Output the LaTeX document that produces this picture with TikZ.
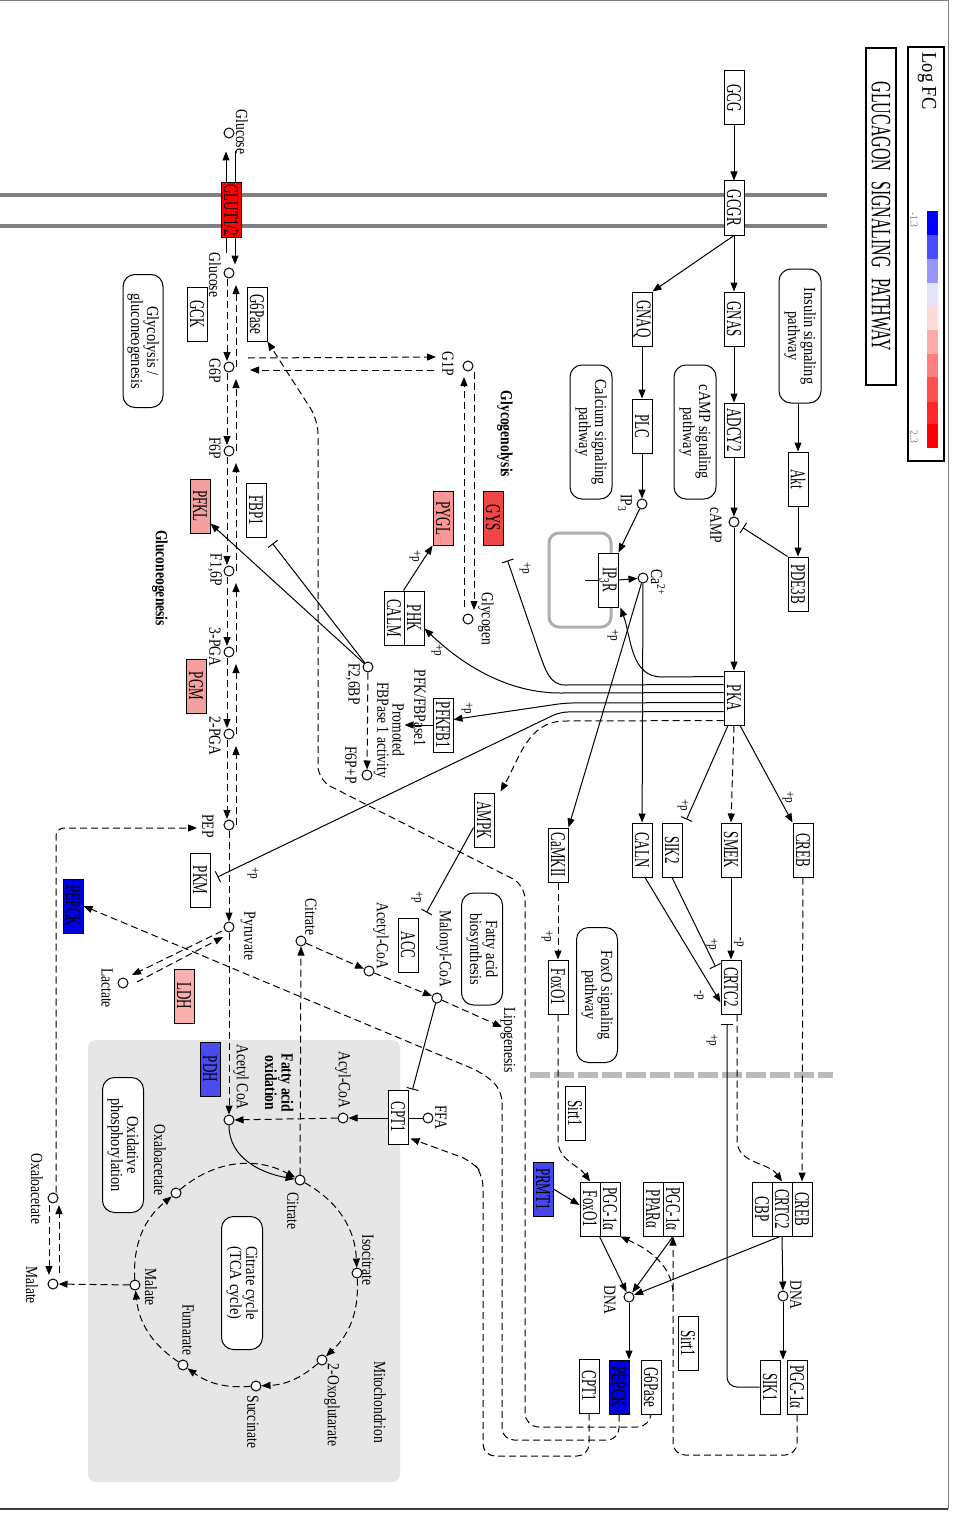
\documentclass[tikz,border=0pt]{standalone}
\usepackage{graphicx}
\usepackage{fontspec}
\setmainfont{Liberation Serif}
\newfontfamily\gfnt[FakeStretch=0.62]{Liberation Serif}
\newfontfamily\lfnt[FakeStretch=0.8]{Liberation Serif}
\newfontfamily\pfnt[FakeStretch=0.85]{Liberation Serif}
\newfontfamily\tfnt[FakeStretch=0.57]{Liberation Serif}
\newfontfamily\legfnt[FakeStretch=0.88]{Liberation Serif}
\usetikzlibrary{arrows.meta,calc}
\pgfdeclarelayer{bg}
\pgfdeclarelayer{edges}
\pgfsetlayers{bg,edges,main}
\newcommand{\vt}[1]{\rotatebox{-90}{#1}}
\definecolor{cGLUT}{RGB}{255,0,0}
\definecolor{cGYS}{RGB}{240,70,70}
\definecolor{cPYGL}{RGB}{250,150,150}
\definecolor{cPFKL}{RGB}{245,160,160}
\definecolor{cLDH}{RGB}{250,175,175}
\definecolor{cPDH}{RGB}{75,75,240}
\definecolor{cPRMT}{RGB}{70,70,240}
\definecolor{cPEPCK}{RGB}{0,0,225}
\definecolor{mitog}{RGB}{230,230,230}
\definecolor{membg}{RGB}{128,128,128}
\definecolor{nucg}{RGB}{185,185,185}
\definecolor{erg}{RGB}{175,175,175}
\definecolor{s1}{RGB}{0,0,255}
\definecolor{s2}{RGB}{75,75,255}
\definecolor{s3}{RGB}{150,150,255}
\definecolor{s4}{RGB}{228,228,250}
\definecolor{s5}{RGB}{255,218,218}
\definecolor{s6}{RGB}{255,170,170}
\definecolor{s7}{RGB}{255,125,125}
\definecolor{s8}{RGB}{255,80,80}
\definecolor{s9}{RGB}{255,40,40}
\definecolor{s10}{RGB}{255,0,0}
\tikzset{
 gene/.style={draw, fill=white, minimum width=20pt, minimum height=54pt, inner sep=0pt, line width=1pt, font=\gfnt\fontsize{21}{21}\selectfont},
 pw/.style={draw, fill=white, rounded corners=12pt, minimum width=42pt, minimum height=134pt, inner sep=0pt, line width=1pt, font=\pfnt\fontsize{17}{14}\selectfont},
 cpd/.style={circle, draw, fill=white, minimum size=10pt, inner sep=0pt, line width=1pt},
 lbl/.style={inner sep=0pt, font=\lfnt\fontsize{17}{17}\selectfont},
 blbl/.style={inner sep=0pt, font=\lfnt\bfseries\fontsize{17}{15}\selectfont},
 pl/.style={inner sep=0pt, font=\lfnt\fontsize{14}{14}\selectfont},
 ln/.style={line width=1pt},
 arr/.style={ln, -{Triangle[length=9pt,width=7pt]}},
 darr/.style={arr, dash pattern=on 7pt off 4pt},
 inh/.style={ln, -{Bar[width=12pt]}},
}
\begin{document}
\begin{tikzpicture}[x=1pt,y=1pt]
\useasboundingbox (0,0) rectangle (953,-1517);
\begin{pgfonlayer}{bg}
 \fill[white] (0,0) rectangle (953,-1517);
 \fill[mitog, rounded corners=8pt] (88,-1040) rectangle (400,-1482);
 \draw[membg, line width=4pt] (0,-195) -- (827,-195);
 \draw[membg, line width=4pt] (0,-226) -- (827,-226);
 \draw[nucg, line width=6pt, dash pattern=on 20pt off 4pt] (530,-1075) -- (833,-1075);
 \draw[erg, line width=3pt, rounded corners=10pt] (549,-533) rectangle (611,-627);
 \draw[gray, line width=1pt] (0,-1) -- (948,-1) -- (948,-1509);
 \draw[black!75, line width=2pt] (948,-1509) -- (0,-1509);
\end{pgfonlayer}

% ---------- legend ----------
\node[draw, line width=1.5pt, minimum width=36pt, minimum height=414pt, inner sep=0pt] (legend) at (926,-254) {};
\node[inner sep=0pt] (logfc) at (927,-81) {\vt{\legfnt\fontsize{21}{21}\selectfont Log FC}};
\fill[s1] (927,-211) rectangle (938,-235);
\fill[s2] (927,-235) rectangle (938,-259);
\fill[s3] (927,-259) rectangle (938,-283);
\fill[s4] (927,-283) rectangle (938,-306);
\fill[s5] (927,-306) rectangle (938,-330);
\fill[s6] (927,-330) rectangle (938,-354);
\fill[s7] (927,-354) rectangle (938,-377);
\fill[s8] (927,-377) rectangle (938,-402);
\fill[s9] (927,-402) rectangle (938,-424);
\fill[s10] (927,-424) rectangle (938,-448);
\node[inner sep=0pt, text=gray] (lmin) at (914,-220) {\vt{\legfnt\fontsize{11}{11}\selectfont -1.3}};
\node[inner sep=0pt, text=gray] (lmax) at (914,-437) {\vt{\legfnt\fontsize{11}{11}\selectfont 2.3}};
\node[draw, line width=1.5pt, minimum width=30pt, minimum height=337pt, inner sep=0pt] (title) at (881,-216.5) {\vt{\tfnt\fontsize{28}{28}\selectfont GLUCAGON\hspace{6pt} SIGNALING\hspace{6pt} PATHWAY}};

% ---------- genes ----------
\node[gene] (GCG) at (734,-98) {\vt{GCG}};
\node[gene] (GCGR) at (734,-208) {\vt{GCGR}};
\node[gene] (GNAS) at (734,-319) {\vt{GNAS}};
\node[gene] (GNAQ) at (642,-319) {\vt{GNAQ}};
\node[gene] (ADCY2) at (734,-430) {\vt{ADCY2}};
\node[gene] (PLC) at (642,-426) {\vt{PLC}};
\node[gene] (Akt) at (798,-479) {\vt{Akt}};
\node[gene] (PDE3B) at (798,-584) {\vt{PDE3B}};
\node[gene] (PKA) at (734,-698) {\vt{PKA}};
\node[gene] (IP3R) at (608,-580) {\vt{IP\textsubscript{3}R}};
\node[gene] (CALN) at (642,-850) {\vt{CALN}};
\node[gene] (SIK2) at (672,-850) {\vt{SIK2}};
\node[gene] (SMEK) at (731,-850) {\vt{SMEK}};
\node[gene] (CREB) at (803,-850) {\vt{CREB}};
\node[gene] (CRTC2) at (731,-987) {\vt{CRTC2}};
\node[gene] (CaMKII) at (558,-855) {\vt{CaMKII}};
\node[gene] (FoxO1) at (558,-987) {\vt{FoxO1}};
\node[gene] (Sirt1a) at (575,-1113) {\vt{Sirt1}};
\node[gene, fill=cPRMT] (PRMT1) at (543,-1189) {\vt{PRMT1}};
\node[gene] (FoxO1c) at (590,-1209) {\vt{FoxO1}};
\node[gene] (PGCb) at (610,-1209) {\vt{PGC-1α}};
\node[gene] (PPARa) at (653,-1209) {\vt{PPARα}};
\node[gene] (PGCa) at (673,-1209) {\vt{PGC-1α}};
\node[gene] (CBP) at (762,-1209) {\vt{CBP}};
\node[gene] (CRTC2c) at (782,-1209) {\vt{CRTC2}};
\node[gene] (CREBc) at (802,-1209) {\vt{CREB}};
\node[gene] (SIK1) at (770,-1387) {\vt{SIK1}};
\node[gene] (PGCr) at (797,-1387) {\vt{PGC-1α}};
\node[gene] (Sirt1b) at (688,-1343) {\vt{Sirt1}};
\node[gene] (G6Pb) at (651,-1387) {\vt{G6Pase}};
\node[gene, fill=cPEPCK] (PEPCKb) at (619,-1387) {\vt{PEPCK}};
\node[gene] (CPTb) at (589,-1386) {\vt{CPT1}};
\node[gene] (AMPK) at (484,-820) {\vt{AMPK}};
\node[gene] (ACC) at (408,-945) {\vt{ACC}};
\node[gene] (CPTm) at (398,-1117) {\vt{CPT1}};
\node[gene] (PFKFB1) at (443,-725) {\vt{PFKFB1}};
\node[gene] (PHK) at (414,-618) {\vt{PHK}};
\node[gene] (CALM) at (394,-618) {\vt{CALM}};
\node[gene, fill=cPYGL] (PYGL) at (443,-518) {\vt{PYGL}};
\node[gene, fill=cGYS] (GYS) at (493,-518) {\vt{GYS}};
\node[gene, fill=cGLUT] (GLUT) at (231,-210) {\vt{GLUT1/2}};
\node[gene] (GCK) at (197,-314) {\vt{GCK}};
\node[gene] (G6Pt) at (257,-314) {\vt{G6Pase}};
\node[gene, fill=cPFKL] (PFKL) at (200,-506) {\vt{PFKL}};
\node[gene] (FBP1) at (256,-510) {\vt{FBP1}};
\node[gene, fill=cPFKL] (PGM) at (196,-686) {\vt{PGM}};
\node[gene] (PKM) at (200,-880) {\vt{PKM}};
\node[gene, fill=cLDH] (LDH) at (184,-996) {\vt{LDH}};
\node[gene, fill=cPDH] (PDH) at (210,-1069) {\vt{PDH}};
\node[gene, fill=cPEPCK] (PEPCKl) at (73,-906) {\vt{PEPCK}};

% ---------- pathway boxes ----------
\node[pw] (INS) at (800,-336) {\vt{\begin{tabular}{@{}c@{}}Insulin signaling\\pathway\end{tabular}}};
\node[pw] (CAMPP) at (695,-432) {\vt{\begin{tabular}{@{}c@{}}cAMP signaling\\pathway\end{tabular}}};
\node[pw] (CALP) at (591,-432) {\vt{\begin{tabular}{@{}c@{}}Calcium signaling\\pathway\end{tabular}}};
\node[pw, minimum width=41pt, minimum height=135pt] (FOXP) at (597,-995) {\vt{\begin{tabular}{@{}c@{}}FoxO signaling\\pathway\end{tabular}}};
\node[pw, minimum width=41pt, minimum height=112pt] (FAB) at (482,-949) {\vt{\begin{tabular}{@{}c@{}}Fatty acid\\biosynthesis\end{tabular}}};
\node[pw, minimum width=40pt, minimum height=133pt] (GLYP) at (143,-341) {\vt{\begin{tabular}{@{}c@{}}Glycolysis /\\gluconeogenesis\end{tabular}}};
\node[pw, minimum width=41pt, minimum height=135pt] (OXP) at (123,-1145) {\vt{\begin{tabular}{@{}c@{}}Oxidative\\phosphorylation\end{tabular}}};
\node[pw, minimum width=41pt, minimum height=133pt] (TCAP) at (242,-1283) {\vt{\begin{tabular}{@{}c@{}}Citrate cycle\\(TCA cycle)\end{tabular}}};

% ---------- compounds ----------
\node[cpd] (Gout) at (229,-133) {};
\node[cpd] (Gin) at (229,-273) {};
\node[cpd] (G6P) at (229,-367) {};
\node[cpd] (F6P) at (229,-451) {};
\node[cpd] (F16P) at (229,-571) {};
\node[cpd] (PGA3) at (229,-652) {};
\node[cpd] (PGA2) at (229,-734) {};
\node[cpd] (PEP) at (229,-825) {};
\node[cpd] (Pyr) at (229,-927) {};
\node[cpd] (Lac) at (123,-983) {};
\node[cpd] (AcCoAm) at (229,-1120) {};
\node[cpd] (G1P) at (468,-366) {};
\node[cpd] (Glycogen) at (468,-619) {};
\node[cpd] (F26BP) at (368,-667) {};
\node[cpd] (F6PP) at (367,-775) {};
\node[cpd] (cAMP) at (734,-522) {};
\node[cpd] (IP3) at (642,-504) {};
\node[cpd] (Ca) at (643,-578) {};
\node[cpd] (AcCoAc) at (369,-971) {};
\node[cpd] (MalCoA) at (437,-998) {};
\node[cpd] (Citc) at (301,-941) {};
\node[cpd] (FFA) at (428,-1118) {};
\node[cpd] (AcylCoA) at (343,-1118) {};
\node[cpd] (DNA1) at (629,-1297) {};
\node[cpd] (DNA2) at (783,-1296) {};
\node[cpd] (OAAc) at (53,-1198) {};
\node[cpd] (Malc) at (53,-1284) {};
\node[cpd] (Citm) at (300,-1180) {};
\node[cpd] (OAAm) at (176,-1193) {};
\node[cpd] (Malm) at (135,-1285) {};
\node[cpd] (Fum) at (183,-1365) {};
\node[cpd] (Suc) at (256,-1386) {};
\node[cpd] (OG) at (322,-1360) {};
\node[cpd] (Iso) at (357,-1273) {};
\coordinate (lipo) at (502,-1027);
\coordinate (brk) at (673,-1292);

% ---------- compound labels ----------
\node[lbl] (tGout) at (242,-132) {\vt{Glucose}};
\node[lbl] (tGin) at (215,-275) {\vt{Glucose}};
\node[lbl] (tG6P) at (215,-371) {\vt{G6P}};
\node[lbl] (tF6P) at (215,-448) {\vt{F6P}};
\node[lbl] (tF16P) at (215,-570) {\vt{F1,6P}};
\node[lbl] (tPGA3) at (215,-647) {\vt{3-PGA}};
\node[lbl] (tPGA2) at (215,-736) {\vt{2-PGA}};
\node[lbl] (tPEP) at (208,-826) {\vt{PEP}};
\node[lbl] (tPyr) at (248,-936) {\vt{Pyruvate}};
\node[lbl] (tLac) at (107,-988) {\vt{Lactate}};
\node[lbl] (tAcm) at (241,-1077) {\vt{Acetyl CoA}};
\node[lbl] (tG1P) at (448,-364) {\vt{G1P}};
\node[lbl] (tGlyc) at (486,-619) {\vt{Glycogen}};
\node[lbl] (tF26) at (353,-684) {\vt{F2,6BP}};
\node[lbl] (tF6PP) at (351,-765) {\vt{F6P+P}};
\node[lbl] (tcAMP) at (716,-525) {\vt{cAMP}};
\node[lbl] (tIP3) at (625,-503) {\vt{IP\textsubscript{3}}};
\node[lbl] (tCa) at (658,-582) {\vt{Ca\textsuperscript{2+}}};
\node[lbl] (tAcc) at (381,-936) {\vt{Acetyl-CoA}};
\node[lbl] (tMal) at (444,-949) {\vt{Malonyl-CoA}};
\node[lbl] (tCitc) at (311,-917) {\vt{Citrate}};
\node[lbl] (tLipo) at (508,-1040) {\vt{Lipogenesis}};
\node[lbl] (tFFA) at (441,-1117) {\vt{FFA}};
\node[lbl] (tAcyl) at (343,-1080) {\vt{Acyl-CoA}};
\node[lbl] (tCitm) at (293,-1211) {\vt{Citrate}};
\node[lbl] (tOAAm) at (160,-1160) {\vt{Oxaloacetate}};
\node[lbl] (tMalm) at (151,-1287) {\vt{Malate}};
\node[lbl] (tFum) at (188,-1330) {\vt{Fumarate}};
\node[lbl] (tSuc) at (253,-1422) {\vt{Succinate}};
\node[lbl] (tOG) at (332,-1405) {\vt{2-Oxoglutarate}};
\node[lbl] (tIso) at (368,-1260) {\vt{Isocitrate}};
\node[lbl] (tOAAc) at (37,-1189) {\vt{Oxaloacetate}};
\node[lbl] (tMalc) at (32,-1285) {\vt{Malate}};
\node[lbl] (tDNA1) at (610,-1300) {\vt{DNA}};
\node[lbl] (tDNA2) at (796,-1295) {\vt{DNA}};
\node[lbl] (tMito) at (380,-1402) {\vt{Mitochondrion}};
\node[lbl] (tPFK) at (420,-708) {\vt{PFK/FBPase1}};
\node[lbl, font=\lfnt\fontsize{17}{13}\selectfont] (tProm) at (389,-730) {\vt{\begin{tabular}{@{}c@{}}Promoted\\FBPase 1 activity\end{tabular}}};
\node[blbl] (tGlyco) at (505,-434) {\vt{Glycogenolysis}};
\node[blbl] (tGluco) at (160,-578) {\vt{Gluconeogenesis}};
\node[blbl] (tFAO) at (277,-1083) {\vt{\begin{tabular}{@{}c@{}}Fatty acid\\oxidation\end{tabular}}};

% ---------- +p / -p labels ----------
\node[pl] (p1) at (415,-556) {\vt{+p}};
\node[pl] (p2) at (437,-650) {\vt{+p}};
\node[pl] (p3) at (467,-708) {\vt{+p}};
\node[pl] (p4) at (525,-568) {\vt{+p}};
\node[pl] (p5) at (613,-635) {\vt{+p}};
\node[pl] (p6) at (253,-873) {\vt{+p}};
\node[pl] (p7) at (417,-897) {\vt{+p}};
\node[pl] (p8) at (547,-936) {\vt{+p}};
\node[pl] (p9) at (683,-805) {\vt{+p}};
\node[pl] (p10) at (788,-797) {\vt{+p}};
\node[pl] (p11) at (712,-944) {\vt{+p}};
\node[pl] (p12) at (739,-942) {\vt{-p}};
\node[pl] (p13) at (699,-995) {\vt{-p}};
\node[pl] (p14) at (712,-1040) {\vt{+p}};

% ---------- connectors ----------
\begin{pgfonlayer}{edges}
% glucose transport
\draw[arr] ($(GLUT.south)+(-5,-15)$) -- ($(GLUT.north)+(-5,31)$);
\draw[arr] ($(GLUT.north)+(4,31)$) -- ($(GLUT.south)+(4,-27)$);
% glycolysis / gluconeogenesis chain
\foreach \u/\l in {Gin/G6P, G6P/F6P, F6P/F16P, F16P/PGA3, PGA3/PGA2, PGA2/PEP}{
  \draw[darr] ($(\u)+(-2,-6)$) -- ($(\l)+(-2,6)$);
  \draw[darr] ($(\l)+(7,0)$) -- ($(\u)+(7,-12)$);
}
\draw[darr] (PEP) -- (Pyr);
\draw[darr] (Pyr) -- (AcCoAm);
\draw[darr] ($(Pyr)+(-7,-4)$) -- ($(Lac)+(9,8)$);
\draw[darr] ($(Lac)+(14,1)$) -- ($(Pyr)+(-6,-10)$);
% glycogen
\draw[darr] ($(G6P)+(19,9)$) -- ($(G1P)+(-32,9)$);
\draw[darr] ($(G1P)+(-34,-4)$) -- ($(G6P)+(21,-3)$);
\draw[darr] ($(Glycogen)+(-4,12)$) -- ($(G1P)+(-4,-11)$);
\draw[darr] ($(G1P)+(6,-6)$) -- ($(Glycogen)+(6,9)$);
\draw[arr] (PHK.north west) -- (PYGL.south west);
% F2,6BP
\draw[arr] (F26BP) -- ($(PFKL.south east)+(0,10)$);
\draw[inh] (F26BP) -- ($(FBP1.south east)+(6,-6)$);
\draw[darr] (F26BP) -- (F6PP);
\draw[arr] (PFKFB1.west) -- ++(-28,0);
% OAA -> PEP, malate shuttle
\draw[darr, rounded corners=8pt] ($(OAAc.north)+(3,0)$) |- ($(PEP)+(-32,-3)$);
\draw[darr] ($(OAAc)+(-4,-7)$) -- ($(Malc)+(-4,9)$);
\draw[darr] ($(Malc)+(6,11)$) -- ($(OAAc)+(6,-7)$);
\draw[darr] (Malm) -- (Malc);
\draw[darr] (Citm) -- (Citc);
% fatty acids
\draw[darr] (Citc) -- (AcCoAc);
\draw[darr] (AcCoAc) -- (MalCoA);
\draw[darr] (MalCoA) -- (lipo);
\draw[inh] (MalCoA) -- ($(CPTm.north east)+(4,0)$);
\draw[inh] ($(AMPK.south west)+(0,20)$) -- ($(ACC.north east)+(8,5)$);
\draw[arr] (FFA) -- (AcylCoA);
\draw[darr] (AcylCoA) -- (AcCoAm);
\draw[arr] (AcCoAm) to[out=-90,in=170] (Citm);
% TCA cycle
\draw[darr] (Citm) to[bend left=29] (Iso);
\draw[darr] (Iso) to[bend left=25] (OG);
\draw[darr] (OG) to[bend left=19] (Suc);
\draw[darr] (Suc) to[bend left=20] (Fum);
\draw[darr] (Fum) to[bend left=25] (Malm);
\draw[darr] (Malm) to[bend left=27] (OAAm);
\draw[darr] (OAAm) to[bend left=34] (Citm);
% top signaling
\draw[arr] (GCG) -- (GCGR);
\draw[arr] (GCGR) -- (GNAS);
\draw[arr] (GCGR.south) -- (GNAQ.north east);
\draw[arr] (GNAS) -- (ADCY2);
\draw[arr] (ADCY2) -- (cAMP);
\draw[arr] (cAMP) -- (PKA);
\draw[arr] (GNAQ) -- (PLC);
\draw[arr] (PLC) -- (IP3);
\draw[arr] (Akt.north |- INS.south) -- (Akt);
\draw[arr] (Akt) -- (PDE3B);
\draw[inh, shorten >=5pt] (PDE3B.north west) -- (cAMP);
\draw[arr] (IP3) -- (IP3R.north east);
\draw[arr] (IP3R.east) -- (Ca);
\draw[ln] (IP3R.west) -- ++(-13,0);
\draw[arr] (Ca) -- (CALN);
\draw[arr] (Ca) -- (CaMKII.north east);
% PKA fan
\draw[arr] ($(PKA.north west)+(0,-6)$) -- (662,-677) to[out=180,in=-70] ($(IP3R.south east)+(2,0)$);
\draw[inh] ($(PKA.north west)+(0,-14)$) -- (565,-685) to[out=180,in=-70] (540,-655) -- ($(GYS.south east)+(4,-15)$);
\draw[arr] ($(PKA.north west)+(0,-22)$) -- (560,-693) .. controls (515,-693) and (470,-672) .. ($(PHK.south east)+(0,17)$);
\draw[arr, rounded corners=8pt] ($(PKA.north west)+(0,-32)$) -- (565,-703) -- ($(PFKFB1.north east)+(0,-22)$);
\draw[inh, rounded corners=8pt] ($(PKA.north west)+(0,-41)$) -- (560,-712) -- ($(PKM.east)+(7,3)$);
\draw[darr] ($(PKA.north west)+(0,-50)$) -- (565,-721) to[out=180,in=60] ($(AMPK.north east)+(6,1)$);
% PKA downstream
\draw[inh] ($(PKA.south)+(-6,0)$) -- ($(SIK2.north east)+(4,3)$);
\draw[darr] (PKA.south) -- (SMEK.north);
\draw[arr] ($(PKA.south)+(6,0)$) -- (CREB.north west);
\draw[darr] (CaMKII) -- (FoxO1);
\draw[arr] (SMEK) -- (CRTC2);
\draw[inh] (SIK2.south) -- ($(CRTC2.north west)+(-5,-7)$);
\draw[arr] ($(CALN.south)+(3,0)$) -- ($(CRTC2.north west)+(0,-43)$);
\draw[inh, rounded corners=10pt] (SIK1.west) -| ($(CRTC2.south)+(-4,-9)$);
\draw[darr] ($(CRTC2.south)+(6,0)$) -- (737,-1140) to[out=-90,in=125] (CRTC2c.north);
\draw[darr] (CREB) -- (CREBc);
\draw[darr] (FoxO1.south) -- (558,-1140) to[out=-90,in=125] (FoxO1c.north);
\draw[arr] (PRMT1.east) -- ($(FoxO1c.west)+(0,4)$);
% nucleus
\draw[arr] (CRTC2c.south) -- (DNA2);
\draw[arr] (DNA2) -- (DNA2 |- SIK1.north);
\draw[arr] ($(CRTC2c.south)+(-2,0)$) -- (DNA1);
\draw[arr] (PGCa.south) -- (DNA1);
\draw[arr] (PGCb.south west) -- (DNA1);
\draw[arr] (DNA1) -- (DNA1 |- PEPCKb.north);
\draw[darr, rounded corners=12pt] (PGCr.south) |- (673,-1455) -- (PGCa.south);
\draw[darr] (brk) .. controls (671,-1265) and (650,-1250) .. (PGCb.south east);
% long feedback loops
\draw[darr, rounded corners=14pt] (G6Pb.south) |- (525,-1427) -- (525,-885) -- (318,-780) -- (318,-420) -- (G6Pt.south east);
\draw[darr, rounded corners=12pt] (PEPCKb.south) |- (502,-1440) -- (502,-1090) -- (483,-1073) -- (PEPCKl.east);
\draw[darr, rounded corners=12pt] (CPTb.south) |- (483,-1456) -- (483,-1175) -- (472,-1161) -- ($(CPTm.south east)+(2,6)$);
\end{pgfonlayer}
\end{tikzpicture}
\end{document}
